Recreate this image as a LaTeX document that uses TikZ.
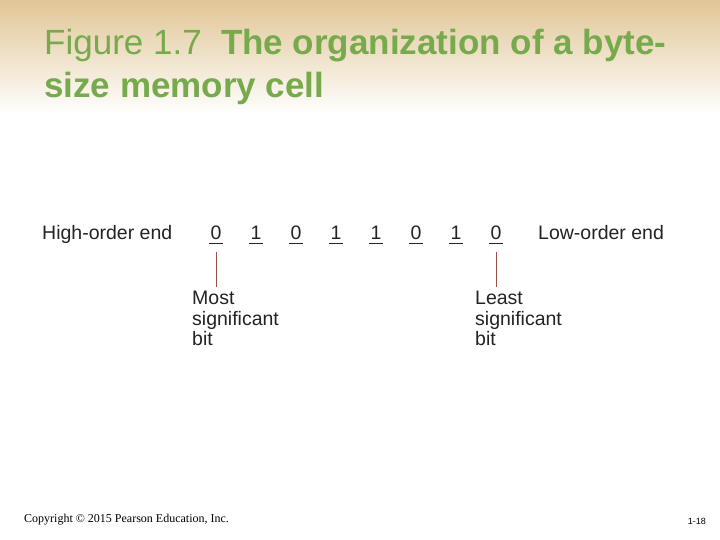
\documentclass[tikz,border=0pt]{standalone}
\usepackage{fontspec}
\setmainfont{Liberation Sans}
\newfontfamily\copyfont{Liberation Serif}
\usepackage{xcolor}
\usepackage{tikz}
\usetikzlibrary{positioning}
\definecolor{slidetan}{RGB}{224, 198, 150}
\definecolor{titlegreen}{RGB}{119, 170, 76}
\definecolor{leadred}{RGB}{150, 80, 70}
\definecolor{textgray}{RGB}{35, 35, 35}

\begin{document}
\begin{tikzpicture}[
        x=1pt, y=-1pt,
        title/.style={anchor=base west, inner sep=0pt, text=titlegreen, font=\fontsize{35}{43}\selectfont},
        body/.style={inner sep=0pt, text=textgray, font=\fontsize{19.5}{20.5}\selectfont},
        bit/.style={body, anchor=base, minimum width=14pt},
        label/.style={body, anchor=north west, align=left},
        ul/.style={line width=0.9pt, draw=textgray},
        lead/.style={line width=0.9pt, draw=leadred}
    ]
        \useasboundingbox (0,0) rectangle (720,540);
        \fill[white] (0,0) rectangle (720,540);
        \fill[top color=slidetan, bottom color=white] (0,0) rectangle (720,115);
        % title
        \node[title] (title1) at (44,55) {Figure 1.7\hspace{0.55em}\textbf{The organization of a byte-}};
        \node[title] (title2) at (44,98) {\textbf{size memory cell}};
        % the byte
        \node[body, anchor=base west] (high) at (42,240) {High-order end};
        \foreach \b [count=\i] in {0,1,0,1,1,0,1,0}
            \node[bit] (b\i) at ({176+40*\i},240) {\b};
        \foreach \i in {1,...,8}
            \draw[ul] ([yshift=-3pt]b\i.base west) -- ([yshift=-3pt]b\i.base east);
        \node[body, anchor=base west] (low) at (538,240) {Low-order end};
        % labels
        \node[label] (msb) at (192,291) {Most\\significant\\bit};
        \node[label] (lsb) at (475,291) {Least\\significant\\bit};
        \draw[lead] ([yshift=-12pt]b1.base) -- ([yshift=4pt]b1.base |- msb.north);
        \draw[lead] ([yshift=-12pt]b8.base) -- ([yshift=4pt]b8.base |- lsb.north);
        % footer
        \node[anchor=base west, inner sep=0pt, font=\copyfont\fontsize{12}{14}\selectfont] (copy) at (24,522) {Copyright \textcopyright{} 2015 Pearson Education, Inc.};
        \node[anchor=base east, inner sep=0pt, font=\fontsize{9}{11}\selectfont] (page) at (706,524) {1-18};
    \end{tikzpicture}
\end{document}
